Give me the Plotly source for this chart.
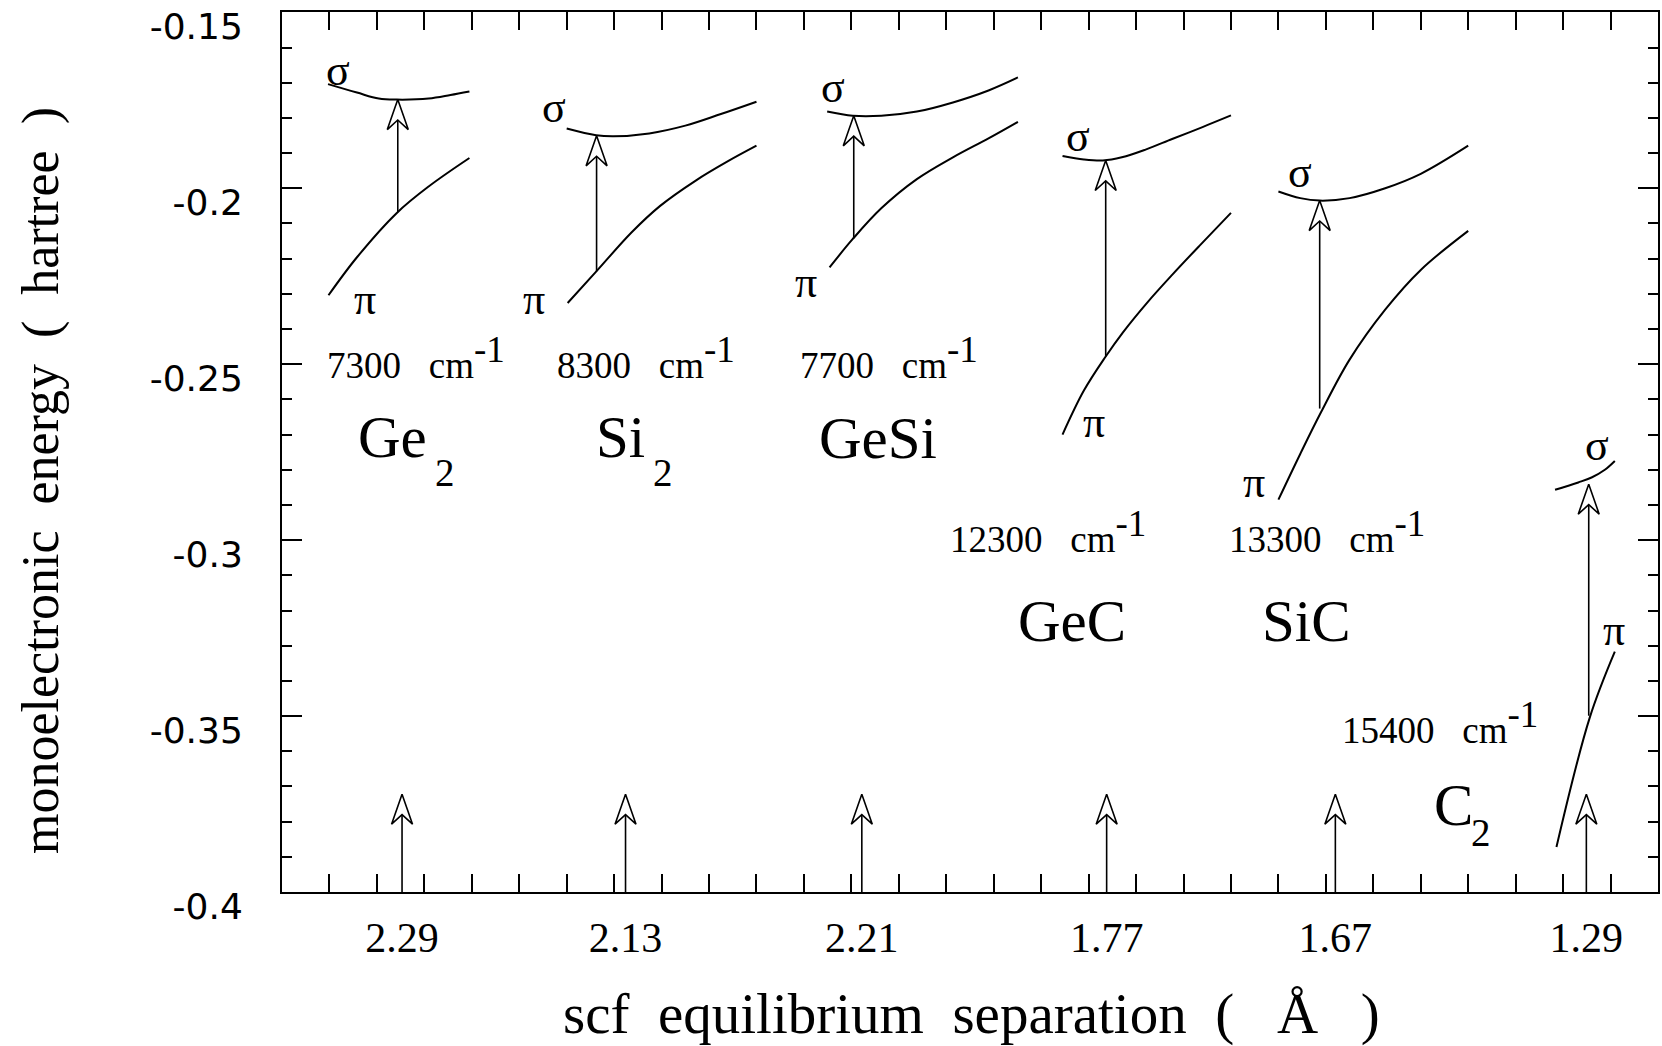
import plotly.graph_objects as go

# ---------------- data ----------------
molecules = ["Ge2", "Si2", "GeSi", "GeC", "SiC", "C2"]
r_eq_labels = ["2.29", "2.13", "2.21", "1.77", "1.67", "1.29"]
r_eq_pos = [2.53, 7.24, 12.22, 17.38, 22.2, 27.49]      # position of each separation arrow
eq_arrow_tip = -0.3722
wavenumbers = [7300, 8300, 7700, 12300, 13300, 15400]

# sigma / pi orbital energy curves (hartree) for each molecule
sigma_x = {
    "Ge2": [0.97, 1.58, 2.04, 2.42, 3.09, 3.55, 3.95],
    "Si2": [6.0, 6.62, 6.99, 7.74, 8.5, 9.25, 10.0],
    "GeSi": [11.49, 12.03, 12.63, 13.38, 14.14, 14.89, 15.51],
    "GeC": [16.45, 16.9, 17.3, 17.7, 18.2, 18.76, 19.4, 20.0],
    "SiC": [21.0, 21.46, 21.87, 22.5, 23.25, 24.0, 25.0],
    "C2": [26.83, 27.32, 27.6, 27.88, 28.09],
}
sigma_y = {
    "Ge2": [-0.1704, -0.1728, -0.1745, -0.1748, -0.1745, -0.1735, -0.1725],
    "Si2": [-0.1830, -0.1849, -0.1852, -0.1844, -0.1822, -0.1789, -0.1754],
    "GeSi": [-0.1782, -0.1794, -0.1794, -0.1782, -0.1756, -0.1722, -0.1685],
    "GeC": [-0.1908, -0.1918, -0.1921, -0.1912, -0.1890, -0.1860, -0.1826, -0.1793],
    "SiC": [-0.2009, -0.2028, -0.2035, -0.2028, -0.2000, -0.1959, -0.1879],
    "C2": [-0.2857, -0.2836, -0.2822, -0.2800, -0.2775],
}
pi_x = {
    "Ge2": [0.98, 1.58, 2.42, 3.09, 3.95],
    "Si2": [6.02, 6.62, 7.37, 7.97, 8.72, 9.4, 10.0],
    "GeSi": [11.54, 12.03, 12.63, 13.38, 14.14, 14.89, 15.51],
    "GeC": [16.45, 16.9, 17.36, 17.72, 18.24, 18.76, 19.36, 20.0],
    "SiC": [21.0, 21.46, 21.9, 22.5, 23.25, 24.0, 25.0],
    "C2": [26.86, 27.56, 28.09],
}
pi_y = {
    "Ge2": [-0.2304, -0.2196, -0.2070, -0.1995, -0.1914],
    "Si2": [-0.2326, -0.2237, -0.2125, -0.2050, -0.1978, -0.1923, -0.1879],
    "GeSi": [-0.2225, -0.2144, -0.2057, -0.1974, -0.1912, -0.1858, -0.1811],
    "GeC": [-0.2700, -0.2575, -0.2478, -0.2410, -0.2324, -0.2246, -0.2160, -0.2070],
    "SiC": [-0.2885, -0.2755, -0.2636, -0.2487, -0.2345, -0.2232, -0.2121],
    "C2": [-0.3872, -0.3505, -0.3317],
}
# pi -> sigma transition arrows
trans_x = [2.44, 6.63, 12.05, 17.36, 21.87, 27.54]
trans_from = [-0.2068, -0.2236, -0.2142, -0.2478, -0.2626, -0.3499]
trans_to = [-0.1748, -0.1851, -0.1794, -0.1921, -0.2035, -0.2841]

# label anchors
sigma_lab_x = [1.19, 5.74, 11.62, 16.78, 21.46, 27.72]
sigma_lab_y = [-0.1664, -0.1770, -0.1713, -0.1852, -0.1955, -0.2732]
pi_lab_x = [1.74, 5.32, 11.05, 17.11, 20.48, 28.07]
pi_lab_y = [-0.2315, -0.2316, -0.2268, -0.2666, -0.2835, -0.3257]
wn_lab_x = [0.91, 5.75, 10.88, 14.03, 19.92, 22.29]
wn_lab_y = [-0.2480, -0.2480, -0.2480, -0.2975, -0.2975, -0.3517]
name_x = [2.33, 7.14, 12.56, 16.64, 21.6, 24.68]
name_y = [-0.2707, -0.2707, -0.2711, -0.3231, -0.3231, -0.3754]
sub_x = [3.44, 8.02, None, None, None, 25.27]
sub_y = [-0.2809, -0.2809, None, None, None, -0.3830]

ytick_vals = [-0.4, -0.35, -0.3, -0.25, -0.2, -0.15]
ytick_text = ["-0.4", "-0.35", "-0.3", "-0.25", "-0.2", "-0.15"]

# ---------------- layout geometry ----------------
W, H = 1662, 1046
M = dict(l=282, r=2, t=12, b=154)
X_RANGE = [0, 29]
Y_RANGE = [-0.4, -0.1499]
ux = (X_RANGE[1] - X_RANGE[0]) / (W - M["l"] - M["r"])   # data units per pixel
uy = (Y_RANGE[1] - Y_RANGE[0]) / (H - M["t"] - M["b"])

SERIF = "Liberation Serif, Times New Roman, serif"
SANS = "DejaVu Sans, Arial, sans-serif"

fig = go.Figure()


def add_arrow(x, y0, y1, head_w=21, head_h=30, lw=1.6):
    hw = head_w / 2 * ux
    hh = head_h * uy
    notch = y1 - 0.68 * hh
    fig.add_trace(go.Scatter(x=[x, x], y=[y0, notch], mode="lines",
                             line=dict(color="black", width=lw),
                             hoverinfo="skip", showlegend=False))
    fig.add_trace(go.Scatter(x=[x, x + hw, x, x - hw, x],
                             y=[y1, y1 - hh, notch, y1 - hh, y1],
                             mode="lines", fill="toself", fillcolor="white",
                             line=dict(color="black", width=lw),
                             hoverinfo="skip", showlegend=False))


# separation arrows at bottom
for xp in r_eq_pos:
    add_arrow(xp, Y_RANGE[0], eq_arrow_tip)

# transition arrows
for xp, a, b in zip(trans_x, trans_from, trans_to):
    add_arrow(xp, a, b)

# orbital curves
for m in molecules:
    fig.add_trace(go.Scatter(x=sigma_x[m], y=sigma_y[m], mode="lines",
                             line=dict(color="black", width=2, shape="spline", smoothing=1.0),
                             name=f"{m} sigma", showlegend=False))
    fig.add_trace(go.Scatter(x=pi_x[m], y=pi_y[m], mode="lines",
                             line=dict(color="black", width=2, shape="spline", smoothing=1.0),
                             name=f"{m} pi", showlegend=False))

ann = []
for i, m in enumerate(molecules):
    ann.append(dict(x=sigma_lab_x[i], y=sigma_lab_y[i], text="σ", showarrow=False,
                    font=dict(family=SERIF, size=44, color="black"),
                    xanchor="center", yanchor="middle"))
    ann.append(dict(x=pi_lab_x[i], y=pi_lab_y[i], text="π", showarrow=False,
                    font=dict(family=SERIF, size=44, color="black"),
                    xanchor="center", yanchor="middle"))
    ann.append(dict(x=wn_lab_x[i], y=wn_lab_y[i],
                    text=f"{wavenumbers[i]}\u00a0\u00a0\u00a0cm<sup><span style='font-size:37px'>-1</span></sup>",
                    showarrow=False, font=dict(family=SERIF, size=37, color="black"),
                    xanchor="left", yanchor="middle"))
    base = m[:-1] if m.endswith("2") else m
    ann.append(dict(x=name_x[i], y=name_y[i], text=base, showarrow=False,
                    font=dict(family=SERIF, size=59, color="black"),
                    xanchor="center", yanchor="middle"))
    if m.endswith("2"):
        ann.append(dict(x=sub_x[i], y=sub_y[i], text="2", showarrow=False,
                        font=dict(family=SERIF, size=39, color="black"),
                        xanchor="center", yanchor="middle"))

# axis titles
ann.append(dict(xref="paper", yref="paper", x=0.501, y=-0.139,
                text="scf\u00a0\u00a0equilibrium\u00a0\u00a0separation\u00a0\u00a0(\u00a0\u00a0\u00a0Å\u00a0\u00a0\u00a0)",
                showarrow=False, font=dict(family=SERIF, size=57, color="black"),
                xanchor="center", yanchor="middle"))
ann.append(dict(xref="paper", yref="paper", x=-0.1753, y=0.468,
                text="monoelectronic\u00a0\u00a0energy\u00a0\u00a0(\u00a0\u00a0hartree\u00a0\u00a0)",
                showarrow=False, textangle=-90,
                font=dict(family=SERIF, size=52, color="black"),
                xanchor="center", yanchor="middle"))

fig.update_layout(
    width=W, height=H, margin=M,
    paper_bgcolor="white", plot_bgcolor="white",
    showlegend=False, annotations=ann,
)
fig.update_xaxes(
    range=X_RANGE, showgrid=False, zeroline=False,
    showline=True, linecolor="black", linewidth=2, mirror="ticks",
    tickmode="array", tickvals=r_eq_pos, ticktext=r_eq_labels,
    ticks="inside", ticklen=0, tickcolor="black",
    tickfont=dict(family=SERIF, size=42, color="black"),
    ticklabelstandoff=8,
    minor=dict(ticks="inside", tick0=0, dtick=1, ticklen=18, tickwidth=1.5,
               tickcolor="black", showgrid=False),
)
fig.update_yaxes(
    range=Y_RANGE, showgrid=False, zeroline=False,
    showline=True, linecolor="black", linewidth=2, mirror="ticks",
    tickmode="array", tickvals=ytick_vals, ticktext=ytick_text,
    ticks="inside", ticklen=20, tickwidth=1.5, tickcolor="black",
    tickfont=dict(family=SANS, size=36, color="black"),
    ticklabelstandoff=30, ticklabelshift=14, ticklabeloverflow="allow",
    minor=dict(ticks="inside", tick0=-0.4, dtick=0.01, ticklen=10, tickwidth=1.5,
               tickcolor="black", showgrid=False),
)

fig.write_html("out.html")
